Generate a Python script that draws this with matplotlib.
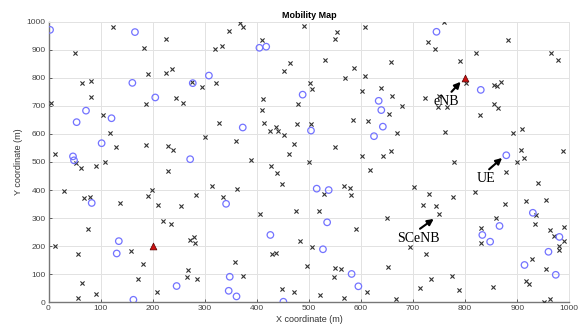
import matplotlib
matplotlib.use("Agg")
import matplotlib.pyplot as plt

# ---- data ----
ue_x = [3, 166, 161, 277, 308, 205, 72, 54, 121, 102, 47, 49, 272, 373, 405, 418, 488, 504,
        634, 639, 642, 625, 745, 830, 879, 515, 538, 535, 527, 582, 595, 83, 135, 131, 163,
        246, 341, 426, 348, 346, 361, 451, 930, 866, 833, 848, 981, 960, 914, 974]
ue_y = [971, 963, 782, 781, 808, 730, 683, 642, 656, 567, 520, 506, 510, 623, 907, 911, 740, 612,
        718, 685, 626, 592, 964, 757, 524, 405, 400, 285, 189, 101, 57, 354, 218, 174, 9,
        58, 351, 240, 91, 41, 21, 2, 319, 272, 240, 216, 233, 180, 133, 98]

enb_x = [200, 800]
enb_y = [200, 800]

scenb_x = [124, 51, 184, 225, 191, 225, 238, 65, 81, 275, 294, 321, 82, 244, 258, 187, 5, 105,
           119, 129, 12, 188, 229, 240, 301, 327, 360, 320, 333, 347, 367, 373, 389, 53, 62, 92,
           108, 409, 452, 463, 411, 410, 413, 425, 436, 441, 452, 479, 478, 471, 461, 428,
           490, 553, 550, 607, 759, 729, 743, 883, 531, 587, 657, 569, 608, 790, 821, 965, 978,
           801, 855, 862, 868, 503, 505, 602, 639, 660, 654, 679, 723, 750, 748, 765, 856, 864,
           828, 584, 613, 670, 504, 761, 892, 910, 551, 601, 642, 657, 501, 618, 779, 908, 899,
           913, 988,
           12, 29, 69, 79, 75, 138, 159, 181, 172, 56, 65, 56, 91, 192, 198, 210, 230, 220, 235,
           254, 271, 280, 281, 283, 267, 266, 286, 208, 313, 335, 361, 358, 374, 406, 430, 437,
           449, 438, 476, 482, 449, 471, 497,
           879, 939, 818, 877, 916, 955, 937, 934, 963, 989, 971, 990, 981, 980, 928, 955, 917,
           922, 963, 952, 853, 860, 831, 830, 776, 744, 749, 730, 720, 702, 695, 725, 774, 734,
           714, 789, 667, 612, 562, 550, 549, 568, 521, 505, 520, 590, 650, 652, 529, 567, 579,
           580]
scenb_y = [980, 889, 908, 938, 814, 817, 833, 782, 787, 786, 769, 782, 730, 727, 711, 707, 711, 669,
           604, 552, 529, 562, 556, 543, 588, 640, 575, 904, 913, 967, 997, 980, 506, 498, 477, 486,
           500, 935, 823, 852, 725, 685, 640, 609, 625, 611, 596, 706, 635, 564, 527, 485,
           986, 964, 938, 981, 998, 929, 902, 935, 865, 836, 858, 798, 807, 860, 889, 890, 863,
           782, 775, 771, 785, 780, 759, 752, 763, 735, 672, 700, 728, 735, 695, 695, 706, 694,
           669, 650, 645, 602, 637, 608, 604, 618, 552, 523, 523, 538, 501, 470, 501, 543, 501,
           513, 539,
           200, 396, 370, 376, 261, 353, 182, 135, 84, 171, 70, 17, 28, 378, 400, 345, 469, 288, 278,
           342, 222, 233, 211, 383, 114, 91, 82, 37, 414, 374, 403, 143, 94, 314, 173, 175,
           420, 460, 325, 220, 46, 38, 130,
           466, 424, 392, 351, 360, 366, 310, 280, 258, 267, 237, 217, 200, 185, 153, 117, 77,
           64, 13, 0, 56, 300, 264, 211, 374, 342, 315, 387, 346, 410, 196, 172, 94, 82,
           52, 44, 13, 36, 118, 124, 89, 17, 27, 196, 327, 263, 300, 125, 385, 416, 409,
           382]

x_ticks = [0, 100, 200, 300, 400, 500, 600, 700, 800, 900, 1000]
y_ticks = [0, 100, 200, 300, 400, 500, 600, 700, 800, 900, 1000]

# ---- figure ----
plt.rcParams['font.family'] = ['Liberation Sans', 'DejaVu Sans']
fig = plt.figure(figsize=(5.86, 3.27), dpi=100)
ax = fig.add_axes([48.5/586, 1-302.3/327, (569.3-48.5)/586, (302.3-21.7)/327])

ax.scatter(scenb_x, scenb_y, marker='x', s=9, c='#333333', linewidths=0.8, zorder=3)
ax.scatter(ue_x, ue_y, marker='o', s=22, facecolors='none', edgecolors='#7373ff',
           linewidths=0.9, zorder=3)
ax.scatter(enb_x, enb_y, marker='^', s=24, c='#cc1111', edgecolors='#550000',
           linewidths=0.5, zorder=4)

ax.set_xlim(0, 1000)
ax.set_ylim(0, 1000)
ax.set_xticks(x_ticks)
ax.set_yticks(y_ticks)
ax.tick_params(labelsize=6, length=2.5, width=0.6, colors='#444444', direction='in',
               pad=2)
ax.grid(True, color='#e2e2e2', linewidth=0.7, zorder=0)
ax.set_axisbelow(True)
for side in ['top', 'right']:
    ax.spines[side].set_color('#e2e2e2')
    ax.spines[side].set_linewidth(0.7)
for side in ['left', 'bottom']:
    ax.spines[side].set_color('#777777')
    ax.spines[side].set_linewidth(1.0)

ax.set_title('Mobility Map', fontsize=6.5, fontweight='bold', pad=3)
ax.set_xlabel('X coordinate (m)', fontsize=6.5, labelpad=2, color='#333333')
ax.set_ylabel('Y coordinate (m)', fontsize=6.5, labelpad=3, color='#333333')

arrow = dict(arrowstyle='-|>', color='black', lw=1.5, mutation_scale=9, shrinkA=0, shrinkB=2)
ax.annotate('eNB', xy=(795, 793), xytext=(764, 717), fontsize=10, family='Liberation Serif',
            ha='center', va='center', arrowprops=dict(arrow, relpos=(0.6, 1.0)), zorder=5)
ax.annotate('UE', xy=(875, 521), xytext=(840, 441), fontsize=10, family='Liberation Serif',
            ha='center', va='center', arrowprops=dict(arrow, relpos=(0.5, 1.0)), zorder=5)
ax.annotate('SCeNB', xy=(744, 303), xytext=(710, 229), fontsize=10, family='Liberation Serif',
            ha='center', va='center', arrowprops=dict(arrow, relpos=(0.45, 1.0)), zorder=5)

fig.savefig('out.png', dpi=100)
